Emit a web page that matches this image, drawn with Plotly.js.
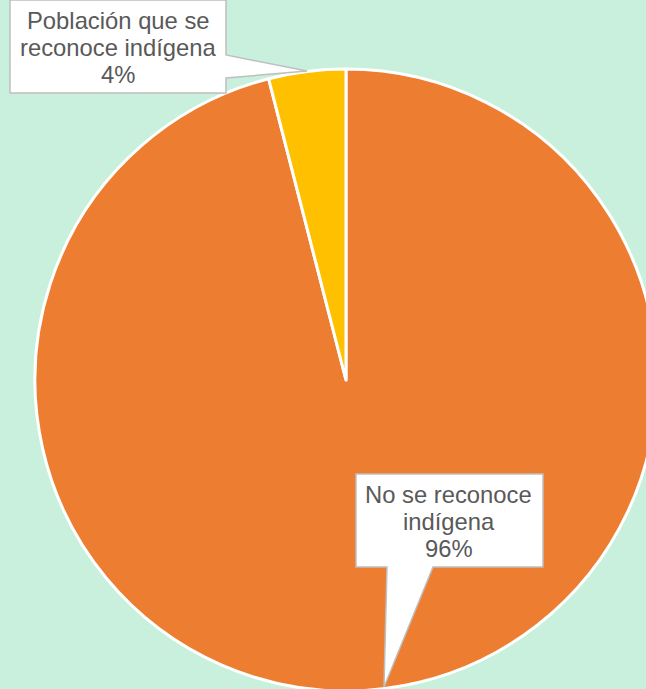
<!DOCTYPE html>
<html>
<head>
<meta charset="utf-8">
<script src="https://cdn.plot.ly/plotly-3.0.1.min.js"></script>
<style>
html,body{margin:0;padding:0;overflow:hidden;background:#C9F0DC;width:646px;height:689px;}
#chart{position:absolute;left:0;top:0;width:692px;height:760px;}
</style>
</head>
<body>
<div id="chart"></div>
<script>
const categories = ["No se reconoce indígena", "Población que se reconoce indígena"];
const labelLines = [["No se reconoce", "indígena"], ["Población que se", "reconoce indígena"]];
const values = [96, 4];
const colors = ["#ED7D31", "#FFC000"];

const W = 692, H = 760;
const cx = 346, cy = 380, R = 311;
function px(x){ return x / W; }
function py(y){ return 1 - y / H; }
function path(pts){
  return pts.map((p,i)=> (i?'L':'M') + px(p[0]).toFixed(5) + ',' + py(p[1]).toFixed(5)).join(' ') + ' Z';
}

const total = values.reduce((a,b)=>a+b,0);
const pct = values.map(v => Math.round(v/total*100) + '%');

const trace = {
  type: 'pie',
  labels: categories,
  values: values,
  sort: false,
  direction: 'clockwise',
  rotation: 0,
  marker: {colors: colors, line: {color: '#FFFFFF', width: 3}},
  textinfo: 'none',
  hoverinfo: 'skip',
  showlegend: false,
  domain: {x: [px(cx - R), px(cx + R)], y: [py(cy + R), py(cy - R)]}
};

const calloutBottom = path([[356,474],[543,474],[543,567],[433,567],[384,687],[387,567],[356,567]]);
const calloutTop = path([[10,0],[226,0],[226,55],[307,71],[226,78],[226,93],[10,93]]);

const font = {family:'Liberation Sans, Arial, sans-serif', size:23.8, color:'#595959'};
const annotations = [];
const boxes = [{x:448.5, y0:494.3}, {x:118, y0:20.3}];
boxes.forEach((b, i) => {
  const lines = labelLines[i].concat([pct[i]]);
  lines.forEach((t, k) => {
    annotations.push({xref:'paper', yref:'paper', x: px(b.x), y: py(b.y0 + 27*k),
      xanchor:'center', yanchor:'middle', text: t, showarrow:false, font: font});
  });
});

const layout = {
  width: W, height: H,
  margin: {l:0, r:0, t:0, b:0},
  paper_bgcolor: '#C9F0DC',
  plot_bgcolor: '#C9F0DC',
  showlegend: false,
  shapes: [
    {type:'path', xref:'paper', yref:'paper', path: calloutTop, fillcolor:'#FFFFFF', line:{color:'#BFBFBF', width:1.5}, layer:'above'},
    {type:'path', xref:'paper', yref:'paper', path: calloutBottom, fillcolor:'#FFFFFF', line:{color:'#BFBFBF', width:1.5}, layer:'above'}
  ],
  annotations: annotations
};

Plotly.newPlot('chart', [trace], layout, {staticPlot:true, displayModeBar:false});
</script>
</body>
</html>
